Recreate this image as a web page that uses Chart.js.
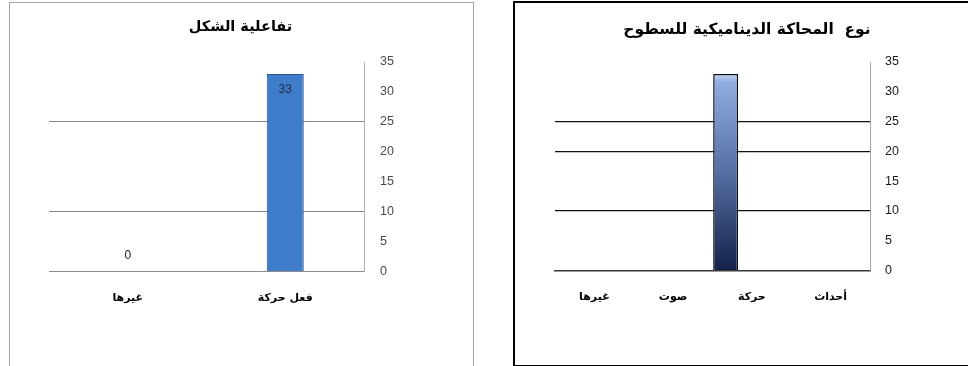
<!DOCTYPE html>
<html>
<head>
<meta charset="utf-8">
<script src="https://cdn.jsdelivr.net/npm/chart.js@4.4.1/dist/chart.umd.min.js"></script>
<style>
  html, body { margin: 0; padding: 0; background: #fff; width: 968px; height: 366px; overflow: hidden; }
  #leftBox { position: absolute; left: 9px; top: 2px; width: 463px; height: 370px;
             border: 1px solid #a6a6a6; border-bottom: none; }
  #rightBox { position: absolute; left: 513px; top: 1px; width: 464px; height: 362px;
              border: 2px solid #000; }
  .wrap { position: absolute; left: 0; top: 0; }
</style>
</head>
<body>
<div id="leftBox"><div class="wrap" style="width:463px;height:363px"><canvas id="c1"></canvas></div></div>
<div id="rightBox"><div class="wrap" style="width:464px;height:362px"><canvas id="c2"></canvas></div></div>
<script>
// ---- data (left chart) ----
const leftTitle = 'تفاعلية الشكل';
const leftCategories = ['غيرها', 'فعل حركة'];
const leftValues = [0, 33];
const leftGridValues = [10, 25];

// ---- data (right chart) ----
const rightTitle = 'نوع  المحاكة الديناميكية للسطوح';
const rightCategories = ['غيرها', 'صوت', 'حركة', 'أحداث'];
const rightSeriesA = [0, 0, 33, 0];
const rightSeriesB = [0, 0, 0, 0];
const rightSeriesC = [0, 0, 0, 0];
const rightGridValues = [10, 20, 25];

// ---- axis ticks ----
const yMin = 0, yMax = 35, yStep = 5;

const latinFont = "'Liberation Sans', 'DejaVu Sans', sans-serif";
const arabicFont = "'DejaVu Sans', 'Liberation Sans', sans-serif";

function leftBarFill(ctx) {
  const chart = ctx.chart;
  const meta = chart.getDatasetMeta(ctx.datasetIndex);
  const el = meta.data[ctx.dataIndex];
  if (!el || !chart.chartArea || isNaN(el.x)) return '#3f7dca';
  const w = el.width || 37;
  const g = chart.ctx.createLinearGradient(el.x - w / 2, 0, el.x + w / 2, 0);
  g.addColorStop(0, '#2c5c9c');
  g.addColorStop(0.12, '#3a76c2');
  g.addColorStop(0.5, '#4585d1');
  g.addColorStop(0.88, '#3a76c2');
  g.addColorStop(1, '#2c5c9c');
  return g;
}

function rightBarFill(ctx) {
  const chart = ctx.chart;
  const a = chart.chartArea;
  if (!a) return '#4a6496';
  const y0 = chart.scales.y.getPixelForValue(33);
  const g = chart.ctx.createLinearGradient(0, y0, 0, a.bottom);
  g.addColorStop(0, '#c9d8f2');
  g.addColorStop(0.04, '#91ade0');
  g.addColorStop(0.45, '#5c76ab');
  g.addColorStop(1, '#13224a');
  return g;
}

const dataLabelPlugin = {
  id: 'valueLabels',
  afterDatasetsDraw(chart) {
    const c = chart.ctx;
    const meta = chart.getDatasetMeta(0);
    c.save();
    c.font = "12px " + latinFont;
    c.textAlign = 'center';
    c.textBaseline = 'middle';
    meta.data.forEach((el, i) => {
      const v = chart.data.datasets[0].data[i];
      if (v > 0) {
        c.fillStyle = '#1c2b44';
        c.fillText(String(v), el.x, el.y + 16);
      } else {
        c.fillStyle = '#222';
        c.fillText(String(v), el.x, el.y - 16);
      }
    });
    c.restore();
  }
};

// title drawn centred on a given x (canvas coords), RTL text
function titlePlugin(text, cx, cy, size) {
  return {
    id: 'rtlTitle',
    afterDraw(chart) {
      const c = chart.ctx;
      c.save();
      c.font = 'bold ' + size + 'px ' + arabicFont;
      c.direction = 'rtl';
      c.textAlign = 'left';
      c.textBaseline = 'middle';
      c.fillStyle = '#000';
      const w = c.measureText(text).width;
      // with rtl direction, 'left' anchors the left edge of the text at x
      c.fillText(text, cx - w / 2, cy);
      c.restore();
    }
  };
}

function yScale(gridVals, gridColor, gridWidth, tickColor, pad, borderColor) {
  return {
    position: 'right',
    min: yMin, max: yMax,
    ticks: { stepSize: yStep, color: tickColor, padding: pad,
             font: { family: latinFont, size: 12.5 } },
    grid: {
      drawTicks: false,
      color: (ctx) => (ctx.tick && gridVals.includes(ctx.tick.value)) ? gridColor : 'rgba(0,0,0,0)',
      lineWidth: gridWidth
    },
    border: { display: true, color: borderColor, width: 1 },
    afterFit: (s) => { s.width = 109; }
  };
}

function xScale(zeroColor, zeroWidth) {
  return {
    ticks: { color: '#000', padding: 20, font: { family: arabicFont, size: 11, weight: 'bold' } },
    grid: { display: false, drawTicks: false },
    border: { display: true, color: zeroColor, width: zeroWidth },
    afterFit: (s) => { s.height = 94.5; }
  };
}

new Chart(document.getElementById('c1'), {
  type: 'bar',
  data: {
    labels: leftCategories,
    datasets: [{
      data: leftValues,
      backgroundColor: leftBarFill,
      borderColor: '#2a5490',
      borderWidth: 1,
      categoryPercentage: 1,
      barPercentage: 0.235
    }]
  },
  options: {
    responsive: true, maintainAspectRatio: false, animation: false,
    layout: { padding: { left: 39, right: 0, top: 59, bottom: 0 } },
    plugins: {
      legend: { display: false }, tooltip: { enabled: false },
      title: { display: false }
    },
    scales: {
      x: xScale('#8c8c8c', 1),
      y: yScale(leftGridValues, '#868686', 1, '#4a4a4a', 16, '#b4b4b4')
    }
  },
  plugins: [dataLabelPlugin, titlePlugin(leftTitle, 230.5, 24, 14.5)]
});

new Chart(document.getElementById('c2'), {
  type: 'bar',
  data: {
    labels: rightCategories,
    datasets: [
      { data: rightSeriesA, backgroundColor: rightBarFill, borderColor: '#0b1020', borderWidth: 1.5,
        categoryPercentage: 1, barPercentage: 0.95 },
      { data: rightSeriesB, backgroundColor: '#4a6496', borderWidth: 0,
        categoryPercentage: 1, barPercentage: 0.95 },
      { data: rightSeriesC, backgroundColor: '#4a6496', borderWidth: 0,
        categoryPercentage: 1, barPercentage: 0.95 }
    ]
  },
  options: {
    responsive: true, maintainAspectRatio: false, animation: false,
    layout: { padding: { left: 40, right: 0, top: 59, bottom: 0 } },
    plugins: {
      legend: { display: false }, tooltip: { enabled: false },
      title: { display: false }
    },
    scales: {
      x: xScale('#3a3a3a', 1.5),
      y: yScale(rightGridValues, '#111', 1.2, '#1a1a1a', 15, '#a6a6a6')
    }
  },
  plugins: [titlePlugin(rightTitle, 232, 27, 15.5)]
});
</script>
</body>
</html>
